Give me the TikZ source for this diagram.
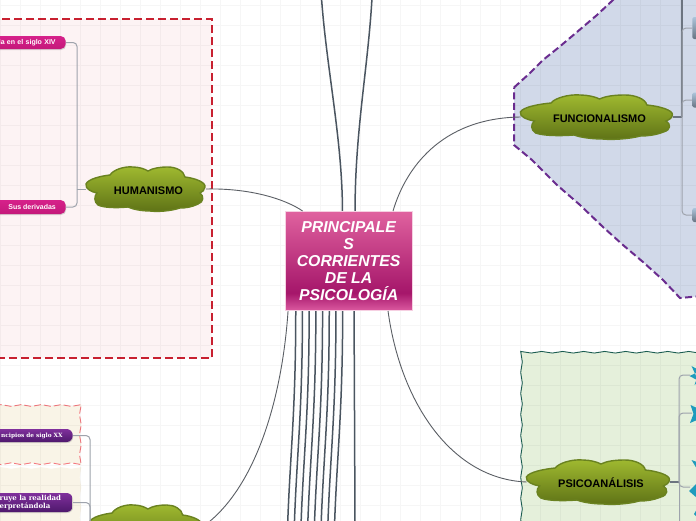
\documentclass[tikz,border=0pt]{standalone}
\usepackage{fontspec}
\setmainfont{Liberation Sans}
\newfontfamily\ramafont{DejaVu Serif}
\usetikzlibrary{decorations.pathmorphing,shadows}

\definecolor{rosaA}{HTML}{E0629F}
\definecolor{rosaB}{HTML}{A5166A}
\definecolor{rosaC}{HTML}{DC5AA0}
\pgfdeclareverticalshading{centrosombra}{100bp}{color(0bp)=(rosaC); color(25bp)=(rosaC); color(34bp)=(rosaB); color(75bp)=(rosaA); color(100bp)=(rosaA)}

\tikzset{
    every picture/.style={line width=0.75pt},
    rejilla/.style={draw=black,opacity=0.035,line width=0.6},
    gruesa/.style={color={rgb,255:red,74;green,85;blue,96},line width=1.5},
    fina/.style={color={rgb,255:red,90;green,94;blue,100},line width=0.9},
    rama/.style={color={rgb,255:red,158;green,163;blue,172},line width=1,rounded corners=4},
    ramaoscura/.style={color={rgb,255:red,108;green,116;blue,128},line width=1.3},
    rosa/.style={rounded corners=5,top color={rgb,255:red,214;green,33;blue,138},bottom color={rgb,255:red,196;green,24;blue,122},text=white,font=\bfseries\fontsize{7}{9}\selectfont,inner sep=0,drop shadow={shadow xshift=0.6,shadow yshift=-1,opacity=0.3}},
    morada/.style={rounded corners=6,top color={rgb,255:red,128;green,48;blue,156},bottom color={rgb,255:red,78;green,24;blue,108},text=white,inner sep=0,drop shadow={shadow xshift=0.6,shadow yshift=-1,opacity=0.3}},
    azul/.style={rounded corners=2,top color={rgb,255:red,172;green,196;blue,218},bottom color={rgb,255:red,104;green,116;blue,130},inner sep=0,minimum width=20,anchor=west},
}

% outline of the green clouds, centre at the origin
\newcommand{\nubepath}{(-60,-5) .. controls (-58,-10) and (-45,-13) .. (-36,-14) .. controls (-33,-19) and (-22,-23) .. (-13,-22) .. controls (-7,-22) and (-1,-20) .. (2,-18) .. controls (7,-21) and (14,-22) .. (22,-22) .. controls (30,-22) and (38,-18) .. (39,-12) .. controls (48,-11) and (60,-7) .. (59,-2) .. controls (59,1) and (56,3) .. (54,4) .. controls (58,7) and (58,13) .. (52,15) .. controls (46,18) and (40,19) .. (34,19) .. controls (25,22) and (12,23) .. (4,22) .. controls (-5,22) and (-14,20) .. (-18,18) .. controls (-28,19) and (-42,19) .. (-48,16) .. controls (-52,13) and (-52,7) .. (-49,4) .. controls (-54,3) and (-61,0) .. (-60,-5) -- cycle}
% name, x, y, width, text
\newcommand{\nube}[5]{%
    \begin{scope}[shift={(#2,#3)},xscale=#4/119]
        \path [draw={rgb,255:red,106;green,130;blue,32},line width=1.4,top color={rgb,255:red,160;green,186;blue,48},bottom color={rgb,255:red,94;green,114;blue,22}] \nubepath;
    \end{scope}
    \node [inner sep=0,minimum width=#4,minimum height=44,font=\bfseries\fontsize{11}{13}\selectfont] (#1) at (#2,#3) {\hspace{5pt}\raisebox{-5.5pt}[0pt][0pt]{#5}};
}

\begin{document}
\begin{tikzpicture}[x=1pt,y=1pt,yscale=-1,xscale=1]
    \useasboundingbox (0,0) rectangle (696,520);
    \clip (0,0) rectangle (696,520);
    \fill [white] (0,0) rectangle (696,520);

    %Shape: Rectangle [id:humanismo]
    \draw [fill={rgb,255:red,253;green,243;blue,244},draw={rgb,255:red,200;green,32;blue,48},line width=2.4,dash pattern=on 8 off 4] (-10,19) -- (212,19) -- (212,358) -- (-10,358) -- cycle;
    %Shape: Polygon [id:funcionalismo]
    \draw [fill={rgb,255:red,209;green,217;blue,233},draw={rgb,255:red,106;green,44;blue,143},line width=2,dash pattern=on 7 off 3.5] (514,87.5) -- (530,73) -- (543,60) -- (558,48) -- (577,32) -- (597,15) -- (613,0) -- (640,-25) -- (720,-25) -- (720,296.5) -- (696,296.5) -- (680,298) -- (663,280) -- (643,262) -- (623,245) -- (603,227) -- (580,205) -- (557,185) -- (532,160) -- (514,145) -- cycle;
    %Shape: Wavy Rectangle [id:psicoanalisis]
    \draw [fill={rgb,255:red,229;green,240;blue,219},draw={rgb,255:red,26;green,92;blue,80},line width=0.9,decorate,decoration={snake,segment length=21,amplitude=0.8}] (521.5,547) -- (521.5,358) -- (731.5,358) -- (731.5,547) -- cycle;
    %Shape: Wavy Rectangle [id:sin borde]
    \fill [fill={rgb,255:red,249;green,244;blue,231},decorate,decoration={snake,segment length=20,amplitude=0.8}] (-25,468) -- (75,468) -- (75,548) -- (-25,548) -- cycle;
    %Shape: Wavy Rectangle [id:principios]
    \draw [fill={rgb,255:red,249;green,244;blue,231},draw={rgb,255:red,244;green,122;blue,128},line width=0.9,dash pattern=on 7 off 3,decorate,decoration={snake,segment length=20,amplitude=0.9}] (-25,405.5) -- (75,405.5) -- (75,465.5) -- (-25,465.5) -- cycle;

    %Shape: Grid
    \draw [rejilla,step=20,shift={(0,5)}] (0,-20) grid (700,520);

    % Center Node
    \node [shading=centrosombra,draw=white!70!rosaA,line width=0.6,inner sep=0,minimum width=126.5,minimum height=99.5,text=white,align=center,font=\bfseries\itshape\fontsize{15.8}{17}\selectfont] (centro) at (348.6,261) {PRINCIPALE\\S\\CORRIENTES\\DE LA\\PSICOLOGÍA};

    % Cloud Nodes
    \nube{humanismo}{146}{189}{119}{HUMANISMO}
    \nube{funcionalismo}{597}{117}{152}{FUNCIONALISMO}
    \nube{psicoanalisis}{598.5}{482}{143}{PSICOANÁLISIS}
    \nube{abajoizq}{146}{527}{112}{}

    % Free ends
    \coordinate (arribaA) at (321.5,-2);
    \coordinate (arribaB) at (372,-2);
    \coordinate (ejeA) at (77,189);
    \coordinate (ejeB) at (682,117);
    \coordinate (ejeBtop) at (682,-2);
    \coordinate (ejeC) at (679,482);
    \coordinate (ejeCbot) at (679,530);
    \coordinate (ejeD) at (90,527);

    %Curved Lines
    \draw [gruesa] ([xshift=57.4]centro.north west) .. controls +(0,-70) and +(5,70) .. (arribaA);
    \draw [gruesa] ([xshift=70]centro.north west) .. controls +(0,-80) and +(-4,70) .. (arribaB);
    \foreach \n/\x in {1/10.7,2/17.4,3/24.1,4/30.8,5/37.5,6/44.2,7/50.9,8/57.6} {
        \coordinate (abajo\n) at (285.3+\x-8.3,523);
        \draw [gruesa] ([xshift=\x]centro.south west) .. controls +(0,100) and +(2.5,-70) .. (abajo\n);
    }
    \coordinate (abajo9) at (355,523);
    \draw [gruesa] ([xshift=69]centro.south west) -- (abajo9);
    \draw [fina] (humanismo.east) .. controls (250,188) and (285,199) .. ([xshift=17.5]centro.north west);
    \draw [fina] (funcionalismo.west) .. controls (440,118) and (405,170) .. ([xshift=108]centro.north west);
    \draw [fina] (psicoanalisis.west) .. controls (450,479) and (400,400) .. ([xshift=103]centro.south west);
    \draw [fina] ([xshift=3]centro.south west) .. controls (282,400) and (255,490) .. (abajoizq.east);

    % Branch Nodes
    \node [rosa,minimum width=90,minimum height=13,anchor=east,align=right,text width=70] (siglo) at (66,42.5) {la en el siglo XIV};
    \node [rosa,minimum width=76,minimum height=14,anchor=east] (derivadas) at (66,207) {\hspace{9pt}Sus derivadas};
    \node [morada,minimum width=90,minimum height=13,anchor=east,align=right,text width=70,font=\ramafont\bfseries\fontsize{5.8}{8}\selectfont] (principios) at (73,435.5) {ncipios de siglo XX};
    \node [morada,minimum width=90,minimum height=19,anchor=east,align=left,text width=80,font=\ramafont\bfseries\fontsize{7}{8}\selectfont] (realidad) at (73,502.5) {\hspace*{12pt}ruye la realidad\\\hspace*{12pt}erpretándola};
    \node [azul,minimum height=22] (cajaA) at (692,28) {};
    \node [azul,minimum height=15] (cajaB) at (692,100) {};
    \node [azul,minimum height=14] (cajaC) at (692,215) {};

    %Straight Lines
    \draw [rama] (humanismo.west) -- (ejeA);
    \draw [rama] (ejeA) |- (siglo.east);
    \draw [rama] (ejeA) |- (derivadas.east);
    \draw [ramaoscura] (funcionalismo.east) -- (ejeB);
    \draw [ramaoscura] (ejeB) -- (ejeBtop);
    \draw [rama] (ejeB) |- (cajaA.west);
    \draw [rama] (ejeB) |- (cajaB.west);
    \draw [rama] (ejeB) |- (cajaC.west);
    \draw [ramaoscura] (psicoanalisis.east) -- (ejeC);
    \draw [rama] (ejeD) |- (principios.east);
    \draw [rama] (ejeD) |- (realidad.east);

    % Star tips at the right edge
    \coordinate (puntaA) at (690,375);
    \coordinate (puntaB) at (692,413);
    \coordinate (puntaC) at (690,487);
    \draw [rama] (ejeC) |- (puntaA);
    \draw [rama] (ejeC) |- (puntaB);
    \draw [rama] (ejeC) |- (puntaC);
    \draw [rama] (ejeC) -- (ejeCbot);
    \fill [color={rgb,255:red,31;green,155;blue,189}] (691.5,366) -- (697,369) -- (697,372) -- (696,373) -- (689.5,376) -- (697,380) -- (697,383) -- (694.5,385) -- (697,378) -- cycle;
    \fill [color={rgb,255:red,31;green,155;blue,189}] (690.5,405) -- (697,408) -- (697,420) -- (690,423) -- (693.5,414) -- cycle;
    \fill [color={rgb,255:red,31;green,155;blue,189}] (691.5,460) -- (697,462) -- (697,469) -- cycle;
    \fill [color={rgb,255:red,31;green,155;blue,189}] (689,491) -- (697,483) -- (697,498) -- cycle;
    \fill [color={rgb,255:red,31;green,155;blue,189}] (697,509) -- (694,514) -- (697,517) -- cycle;
\end{tikzpicture}
\end{document}
